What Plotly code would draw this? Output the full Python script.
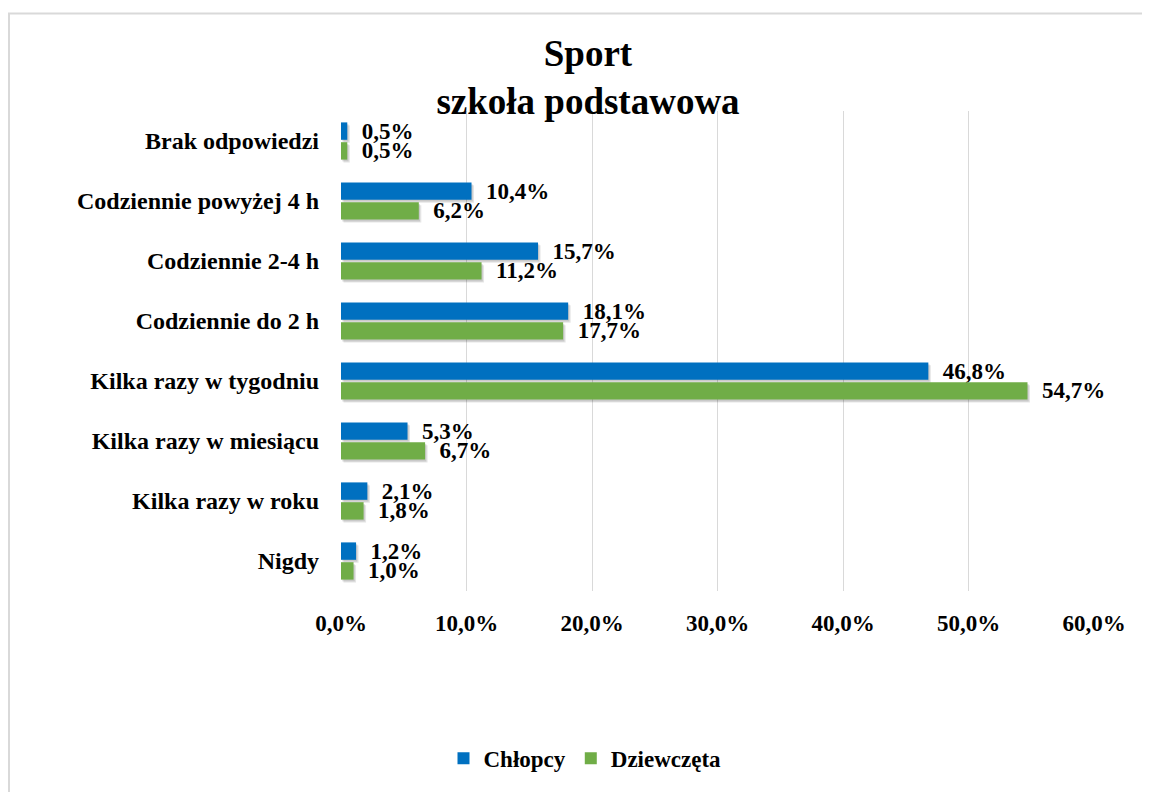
import plotly.graph_objects as go

categories = ["Brak odpowiedzi", "Codziennie powyżej 4 h", "Codziennie 2-4 h",
              "Codziennie do 2 h", "Kilka razy w tygodniu", "Kilka razy w miesiącu",
              "Kilka razy w roku", "Nigdy"]
chlopcy = [0.5, 10.4, 15.7, 18.1, 46.8, 5.3, 2.1, 1.2]
dziewczeta = [0.5, 6.2, 11.2, 17.7, 54.7, 6.7, 1.8, 1.0]
x_ticks = [0, 10, 20, 30, 40, 50, 60]

FONT = "Liberation Serif, Times New Roman, serif"


def pct(v):
    return f"{v:.1f}".replace(".", ",") + "%"


def labels(vals):
    return ["\u00a0\u00a0" + pct(v) for v in vals]


# page body has an 8px margin, so figure is 8px smaller and coordinates shifted
W, H = 1142, 784
L, R, T, B = 333, 56, 103, 196
pw = W - L - R
ph = H - T - B
XMAX = 60

BAR_W = 0.29
OFF_BLUE = -0.31
OFF_GREEN = 0.02
# shadow displacement (px -> data units)
SH_DX = 2.5 * XMAX / pw
SH_DY = 3.0 * len(categories) / ph

fig = go.Figure()
series = [("Chłopcy", chlopcy, "#0070C0", OFF_BLUE),
          ("Dziewczęta", dziewczeta, "#70AD47", OFF_GREEN)]

# soft drop shadows (drawn first, underneath)
for name, vals, col, off in series:
    for k, (dx, dy, a) in enumerate([(SH_DX, SH_DY, 0.10), (SH_DX * 0.5, SH_DY * 0.6, 0.12)]):
        fig.add_trace(go.Bar(
            y=categories, x=vals, base=dx, orientation="h",
            width=BAR_W, offset=off + dy,
            marker=dict(color=f"rgba(0,0,0,{a})", line=dict(width=0)),
            showlegend=False, hoverinfo="skip",
        ))

for name, vals, col, off in series:
    fig.add_trace(go.Bar(
        y=categories, x=vals, orientation="h", name=name,
        width=BAR_W, offset=off,
        marker=dict(color=col, line=dict(width=0)),
        text=labels(vals), textposition="outside", cliponaxis=False,
        constraintext="none",
        textfont=dict(family=FONT, size=23, color="black", weight="bold"),
    ))

fig.update_layout(
    width=W, height=H,
    margin=dict(l=L, r=R, t=T, b=B),
    paper_bgcolor="white", plot_bgcolor="white",
    barmode="overlay",
    font=dict(family=FONT, size=23, color="black"),
    title=dict(text="<b>Sport<br>szkoła podstawowa</b>",
               font=dict(family=FONT, size=37, color="black"),
               x=580 / W, xanchor="center", y=1 - 58 / H, yanchor="top"),
    legend=dict(orientation="h", x=(577 - L) / pw, xref="paper", xanchor="center",
                y=-(757 - (T + ph)) / ph, yanchor="middle",
                font=dict(family=FONT, size=23, color="black", weight="bold"),
                traceorder="normal", itemwidth=30),
    showlegend=True,
)
fig.update_xaxes(range=[0, XMAX], tickvals=x_ticks, ticktext=[pct(v) for v in x_ticks],
                 showgrid=True, gridcolor="#D9D9D9", gridwidth=1,
                 zeroline=False, showline=False,
                 tickfont=dict(family=FONT, size=23, color="black", weight="bold"),
                 ticklabelstandoff=16)
fig.update_yaxes(autorange="reversed", showgrid=False, zeroline=False, showline=False,
                 tickfont=dict(family=FONT, size=24, color="black", weight="bold"),
                 ticklabelstandoff=21)

# outer chart frame
fig.add_shape(type="rect", xref="paper", yref="paper",
              x0=(1 - L) / pw, x1=(W + 20 - L) / pw,
              y0=-(H + 20 - T - ph) / ph, y1=(T + ph - 4.5) / ph,
              line=dict(color="#D9D9D9", width=2), fillcolor="rgba(0,0,0,0)", layer="below")

fig.write_html("out.html")
